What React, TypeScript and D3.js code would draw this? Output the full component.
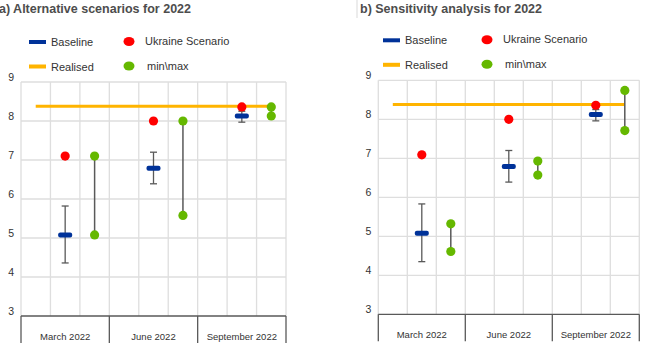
import { useEffect, useRef } from 'react';
import * as d3 from 'd3';

// categories + series
const categories = ['March 2022', 'June 2022', 'September 2022'];
const yTicks = [3, 4, 5, 6, 7, 8, 9];
const realisedValue = 8.38;

// panel a) Alternative scenarios
const baselineA = [5.08, 6.79, 8.13];
const errLowA = [4.36, 6.39, 7.97];
const errHighA = [5.82, 7.2, 8.25];
const ukraineA = [7.1, 8.0, 8.36];
const minA = [5.08, 5.58, 8.13];
const maxA = [7.1, 8.0, 8.36];

// panel b) Sensitivity analysis
const baselineB = [5.08, 6.79, 8.12];
const errLowB = [4.35, 6.39, 7.96];
const errHighB = [5.83, 7.2, 8.25];
const ukraineB = [7.09, 8.0, 8.36];
const minB = [4.61, 6.57, 7.71];
const maxB = [5.32, 6.93, 8.74];

const BLUE = '#003299';
const YELLOW = '#ffb400';
const RED = '#ff0000';
const GREEN = '#65b800';
const GRID = '#dedede';
const AXIS = '#595959';
const TEXT = '#333333';
const FONT = '"Liberation Sans", Arial, sans-serif';

interface PanelData {
  title: string;
  baseline: number[];
  errLow: number[];
  errHigh: number[];
  ukraine: number[];
  min: number[];
  max: number[];
}

interface PanelLayout {
  titleX: number;
  left: number;
  right: number;
  top: number;
  bottom: number;
  legendX: number;
  legendX2: number;
}

function drawPanel(root: d3.Selection<SVGSVGElement, unknown, null, undefined>, d: PanelData, L: PanelLayout) {
  const g = root.append('g');

  const y = d3.scaleLinear().domain([3, 9]).range([L.bottom, L.top]);
  const xCat = d3.scaleBand<string>().domain(categories).range([L.left, L.right]).padding(0);
  const slot = d3.scaleBand<number>().domain([0, 1, 2]).range([0, xCat.bandwidth()]).padding(0);
  const sx = (ci: number, s: number) => (xCat(categories[ci]) as number) + (slot(s) as number) + slot.bandwidth() / 2;

  // title
  g.append('text')
    .attr('x', L.titleX)
    .attr('y', 13)
    .style('font-family', FONT)
    .style('font-size', '12.5px')
    .style('font-weight', 'bold')
    .style('fill', '#4d4d4d')
    .text(d.title);

  // horizontal grid
  g.selectAll('.hgrid')
    .data(yTicks.filter((t) => t > 3))
    .enter()
    .append('line')
    .attr('x1', L.left)
    .attr('x2', L.right)
    .attr('y1', (t) => y(t))
    .attr('y2', (t) => y(t))
    .attr('stroke', GRID)
    .attr('stroke-width', 1.3);

  // vertical grid, one per sub slot boundary
  const vLines: number[] = [];
  categories.forEach((c) => {
    [0, 1, 2].forEach((s) => vLines.push((xCat(c) as number) + (slot(s) as number)));
  });
  vLines.push(L.right);
  g.selectAll('.vgrid')
    .data(vLines)
    .enter()
    .append('line')
    .attr('x1', (v) => v)
    .attr('x2', (v) => v)
    .attr('y1', y(9))
    .attr('y2', y(3))
    .attr('stroke', GRID)
    .attr('stroke-width', 1.3);

  // y tick labels
  g.selectAll('.ytick')
    .data(yTicks)
    .enter()
    .append('text')
    .attr('x', L.left - 7)
    .attr('y', (t) => y(t))
    .attr('dy', '-0.1em')
    .attr('text-anchor', 'end')
    .style('font-family', FONT)
    .style('font-size', '10.5px')
    .style('fill', TEXT)
    .text((t) => t);

  // category axis
  g.append('line')
    .attr('x1', L.left)
    .attr('x2', L.right)
    .attr('y1', y(3))
    .attr('y2', y(3))
    .attr('stroke', AXIS)
    .attr('stroke-width', 1.3);
  const catEdges = categories.map((c) => xCat(c) as number).concat([L.right]);
  g.selectAll('.cdiv')
    .data(catEdges)
    .enter()
    .append('line')
    .attr('x1', (v) => v)
    .attr('x2', (v) => v)
    .attr('y1', y(3))
    .attr('y2', y(3) + 27)
    .attr('stroke', AXIS)
    .attr('stroke-width', 1.3);
  g.selectAll('.clabel')
    .data(categories)
    .enter()
    .append('text')
    .attr('x', (c) => (xCat(c) as number) + xCat.bandwidth() / 2)
    .attr('y', y(3) + 24)
    .attr('text-anchor', 'middle')
    .style('font-family', FONT)
    .style('font-size', '9.5px')
    .style('fill', TEXT)
    .text((c) => c);

  // realised line
  g.append('line')
    .attr('x1', sx(0, 0))
    .attr('x2', sx(2, 2))
    .attr('y1', y(realisedValue))
    .attr('y2', y(realisedValue))
    .attr('stroke', YELLOW)
    .attr('stroke-width', 3);

  // error bars for baseline
  categories.forEach((_, i) => {
    const cx = sx(i, 1);
    g.append('line')
      .attr('x1', cx).attr('x2', cx)
      .attr('y1', y(d.errLow[i])).attr('y2', y(d.errHigh[i]))
      .attr('stroke', AXIS).attr('stroke-width', 1.3);
    [d.errLow[i], d.errHigh[i]].forEach((v) => {
      g.append('line')
        .attr('x1', cx - 3.5).attr('x2', cx + 3.5)
        .attr('y1', y(v)).attr('y2', y(v))
        .attr('stroke', AXIS).attr('stroke-width', 1.3);
    });
  });

  // min\max range lines
  categories.forEach((_, i) => {
    const cx = sx(i, 2);
    g.append('line')
      .attr('x1', cx).attr('x2', cx)
      .attr('y1', y(d.min[i])).attr('y2', y(d.max[i]))
      .attr('stroke', AXIS).attr('stroke-width', 1.5);
  });

  // baseline dashes
  g.selectAll('.base')
    .data(d.baseline)
    .enter()
    .append('rect')
    .attr('x', (_, i) => sx(i, 1) - 7)
    .attr('y', (v) => y(v) - 2.5)
    .attr('width', 14)
    .attr('height', 5)
    .attr('rx', 2)
    .attr('fill', BLUE);

  // ukraine scenario
  g.selectAll('.ukr')
    .data(d.ukraine)
    .enter()
    .append('circle')
    .attr('cx', (_, i) => sx(i, 1))
    .attr('cy', (v) => y(v))
    .attr('r', 4.6)
    .attr('fill', RED);

  // min \ max dots
  const mm = d.min.map((v, i) => ({ v, i })).concat(d.max.map((v, i) => ({ v, i })));
  g.selectAll('.mm')
    .data(mm)
    .enter()
    .append('circle')
    .attr('cx', (p) => sx(p.i, 2))
    .attr('cy', (p) => y(p.v))
    .attr('r', 4.6)
    .attr('fill', GREEN);

  // legend
  const legendRows = [
    { label: 'Baseline', kind: 'bar', color: BLUE, row: 0 },
    { label: 'Ukraine Scenario', kind: 'dot', color: RED, row: 0 },
    { label: 'Realised', kind: 'bar', color: YELLOW, row: 1 },
    { label: 'min\\max', kind: 'dot', color: GREEN, row: 1 },
  ];
  legendRows.forEach((item) => {
    const ly = (L.top - 40) + item.row * 24.5;
    if (item.kind === 'bar') {
      g.append('rect')
        .attr('x', L.legendX)
        .attr('y', ly - 2)
        .attr('width', 17)
        .attr('height', 4)
        .attr('fill', item.color);
      g.append('text')
        .attr('x', L.legendX + 22)
        .attr('y', ly + 4)
        .style('font-family', FONT)
        .style('font-size', '11px')
        .style('fill', TEXT)
        .text(item.label);
    } else {
      g.append('ellipse')
        .attr('cx', L.legendX2)
        .attr('cy', ly - 0.5)
        .attr('rx', 5.5)
        .attr('ry', 4.5)
        .attr('fill', item.color);
      g.append('text')
        .attr('x', L.legendX2 + (item.row === 0 ? 16 : 18))
        .attr('y', ly + 3)
        .style('font-family', FONT)
        .style('font-size', '11px')
        .style('fill', TEXT)
        .text(item.label);
    }
  });
}

export default function App() {
  const svgRef = useRef<SVGSVGElement>(null);

  useEffect(() => {
    if (!svgRef.current) return;
    const svg = d3.select(svgRef.current);
    svg.selectAll('*').remove();

    drawPanel(
      svg,
      { title: 'a) Alternative scenarios for 2022', baseline: baselineA, errLow: errLowA, errHigh: errHighA, ukraine: ukraineA, min: minA, max: maxA },
      { titleX: -1, left: 21, right: 286, top: 82, bottom: 316, legendX: 29, legendX2: 129 }
    );
    drawPanel(
      svg,
      { title: 'b) Sensitivity analysis for 2022', baseline: baselineB, errLow: errLowB, errHigh: errHighB, ukraine: ukraineB, min: minB, max: maxB },
      { titleX: 360, left: 378.3, right: 639.3, top: 80.3, bottom: 314.3, legendX: 383, legendX2: 487 }
    );

    // thin separator left of title b
    svg.append('line')
      .attr('x1', 357).attr('x2', 357)
      .attr('y1', 0).attr('y2', 18)
      .attr('stroke', '#d9d9d9')
      .attr('stroke-width', 1);
  }, []);

  return (
    <svg
      ref={svgRef}
      width={655}
      height={351}
      style={{ position: 'absolute', left: 0, top: 0, background: '#fff' }}
    />
  );
}
